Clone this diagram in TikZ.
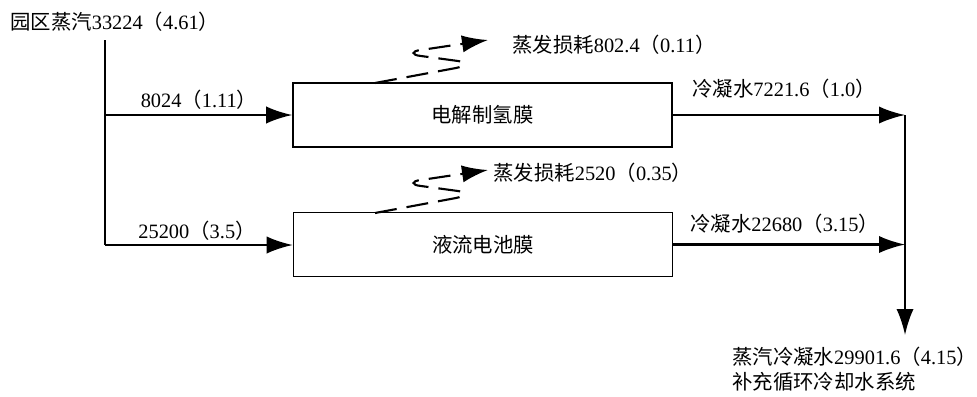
\documentclass[tikz,border=0pt]{standalone}
\usepackage{fontspec}
\setmainfont{Liberation Serif}
\newfontfamily\cjk{Noto Sans CJK SC}
\newcommand{\zh}[1]{{\cjk #1}}
\usetikzlibrary{arrows.meta}

\begin{document}
\begin{tikzpicture}[x=0.025cm,y=-0.025cm,
  every node/.style={font=\fontsize{14.5}{17}\selectfont, inner sep=0pt},
  membox/.style={draw, line width=1pt, minimum width=9.475cm, minimum height=1.6cm},
  pipe/.style={line width=1.5pt},
  flow/.style={line width=1.5pt, -{Latex[length=6.5mm,width=4.3mm]}},
  vapour/.style={line width=1.5pt, dash pattern=on 0.55cm off 0.25cm, -{Latex[length=6.5mm,width=4.3mm]}}]

\useasboundingbox (0,0) rectangle (977,396);

%%%%%%%%%%%%%%%%%%%%%%%%%%%% membranes %%%%%%%%%%%%%%%%%%%%
\node[membox] (elec) at (482.5,115) {\zh{电解制氢膜}};
\node[membox] (liq) at (483,244.5) {\zh{液流电池膜}};

%%%%%%%%%%%%%%%%%%%%%%%%%%%% steam in %%%%%%%%%%%%%%%%%%%%
\node[anchor=west] (steam) at (10,22) {\zh{园区蒸汽}33224\zh{（}4.61\zh{）}};
\coordinate (top) at (105,40);
\coordinate (j1) at (105,115);
\coordinate (j2) at (105,245);

\draw[pipe] (top) -- (j2);
\draw[flow] (j1) -- (j1 -| elec.west);
\draw[flow] (j2) -- (j2 -| liq.west);

\node (in1) at (199,100) {8024\zh{（}1.11\zh{）}};
\node (in2) at (197,231) {25200\zh{（}3.5\zh{）}};

%%%%%%%%%%%%%%%%%%%%%%%%%%%% evaporation %%%%%%%%%%%%%%%%%%%%
\foreach \d in {0,130}{
  \begin{scope}[shift={(0,\d)}]
  \draw[vapour] (375,83) -- (456,68) .. controls (466,66) and (466,62) .. (458,61)
    -- (421,56) .. controls (411,55) and (411,51) .. (421,50) -- (488,40);
  \end{scope}
}
\node[anchor=west] (loss1) at (512,45) {\zh{蒸发损耗}802.4\zh{（}0.11\zh{）}};
\node[anchor=west] (loss2) at (493,173) {\zh{蒸发损耗}2520\zh{（}0.35\zh{）}};

%%%%%%%%%%%%%%%%%%%%%%%%%%%% condensate out %%%%%%%%%%%%%%%%%%%%
\coordinate (rail) at (905,115);
\coordinate (out) at (905,335);

\draw[flow] (elec.east) -- (elec.east -| rail);
\draw[flow] (liq.east) -- (liq.east -| rail);
\draw[flow] (rail) -- (out);

\node[anchor=west] (cond1) at (692,89) {\zh{冷凝水}7221.6\zh{（}1.0\zh{）}};
\node[anchor=west] (cond2) at (690,224) {\zh{冷凝水}22680\zh{（}3.15\zh{）}};

\node[anchor=west] (dest1) at (732,357) {\zh{蒸汽冷凝水}29901.6\zh{（}4.15\zh{）}};
\node[anchor=west] (dest2) at (732,382) {\zh{补充循环冷却水系统}};

\end{tikzpicture}
\end{document}
